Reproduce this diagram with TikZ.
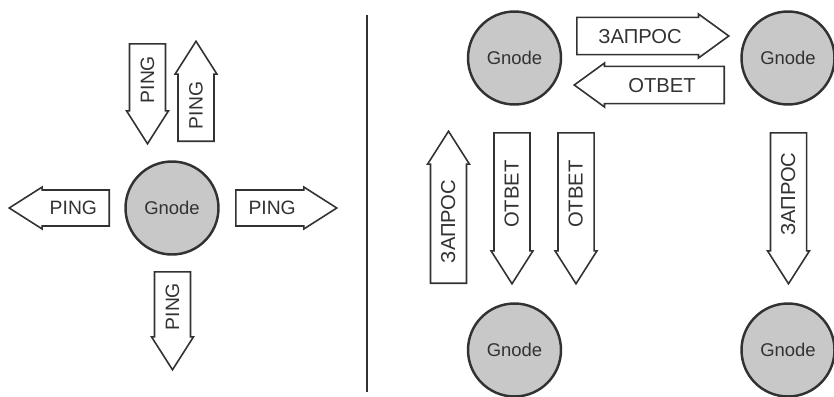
\documentclass[tikz,border=0pt]{standalone}
\usepackage{fontspec}
\setmainfont{Liberation Sans}
\definecolor{nodefill}{RGB}{200, 200, 200}
\definecolor{ink}{RGB}{50, 50, 50}
\usetikzlibrary{shapes.arrows, shapes.geometric, positioning}

\tikzset{
    gnode/.style={circle, draw=ink, line width=1.4pt, fill=nodefill, minimum size=1.86cm,
        inner sep=0pt, text=ink, font=\fontsize{10.5}{12}\selectfont},
    msg/.style={single arrow, draw=ink, line width=0.9pt, fill=white, anchor=tail,
        inner xsep=2pt, inner ysep=0pt, text height=12pt, text depth=4.4pt,
        minimum width=0.84cm, single arrow head extend=0.05cm,
        single arrow tip angle=65, single arrow head indent=0pt,
        text=ink, font=\fontsize{11}{13}\selectfont},
    reqmsg/.style={font=\fontsize{11.5}{13}\selectfont},
    flatmsg/.style={text height=11.5pt, text depth=3.2pt, minimum width=0.88cm, single arrow tip angle=72},
    msgup/.style={rotate=90},
    msgdown/.style={rotate=90, shape border rotate=180},
    msgwest/.style={shape border rotate=180},
}

\begin{document}
\begin{tikzpicture}[x=0.02cm, y=-0.02cm]
    \useasboundingbox (0,0) rectangle (834,396);

    % ping
    \node[gnode] (g) at (172,208) {Gnode};
    \node[msg, msgwest, minimum height=2cm] (pingW) at (110,208) {PING};
    \node[msg, minimum height=2.02cm] (pingE) at (235,208) {PING};
    \node[msg, msgdown, minimum height=2cm] (pingN1) at (147.5,43) {PING};
    \node[msg, msgup, minimum height=2cm] (pingN2) at (196,142) {PING};
    \node[msg, msgdown, minimum height=1.96cm] (pingS) at (172.5,271) {PING};

    \draw[ink, line width=1pt] (367,15) -- (367,392);

    % request / reply
    \node[gnode] (g1) at (514.5,58) {Gnode};
    \node[gnode] (g2) at (788,58) {Gnode};
    \node[gnode] (g3) at (514.5,350) {Gnode};
    \node[gnode] (g4) at (788,350) {Gnode};
    \node[msg, reqmsg, flatmsg, minimum height=3.04cm] (zaprosE) at (576,36) {ЗАПРОС};
    \node[msg, reqmsg, flatmsg, msgwest, minimum height=3cm] (otvetW) at (725,85) {ОТВЕТ};
    \node[msg, reqmsg, msgup, minimum height=3.04cm] (zaprosN) at (448.5,284) {ЗАПРОС};
    \node[msg, reqmsg, msgdown, minimum height=3.02cm] (otvetS1) at (512,132) {ОТВЕТ};
    \node[msg, reqmsg, msgdown, minimum height=3.02cm] (otvetS2) at (576,132) {ОТВЕТ};
    \node[msg, reqmsg, msgdown, minimum height=3.02cm] (zaprosS) at (788.5,132) {ЗАПРОС};
\end{tikzpicture}
\end{document}
